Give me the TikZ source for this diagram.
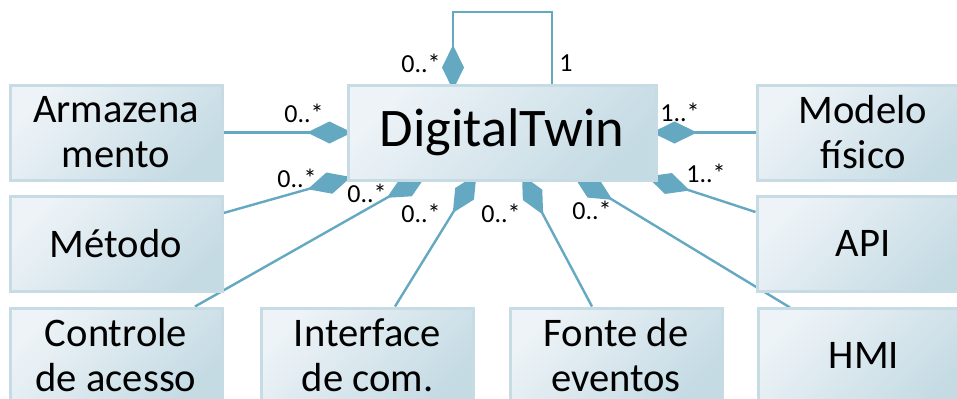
\documentclass[tikz,border=0pt]{standalone}
\usepackage{fontspec}
\setmainfont{Carlito}
\usetikzlibrary{arrows.meta,calc}
\pgfdeclarelayer{lines}
\pgfsetlayers{lines,main}
\definecolor{linkblue}{HTML}{64A8C1}
\definecolor{boxlight}{HTML}{EDF3F7}
\definecolor{boxdark}{HTML}{C5DBE4}
\definecolor{boxedge}{HTML}{C6DBE4}
\begin{document}
\begin{tikzpicture}[x=0.5pt,y=-0.5pt,
  box/.style={draw=boxedge, line width=1.5pt, top color=boxlight, bottom color=boxdark,
    shading angle=45, minimum width=106pt, minimum height=47.5pt, inner sep=0pt,
    align=center, font=\fontsize{20.3}{22.5}\selectfont},
  mainbox/.style={box, minimum width=154pt, font=\fontsize{27.2}{30}\selectfont},
  lbl/.style={inner sep=0pt, font=\fontsize{13}{15}\selectfont},
  link/.style={draw=linkblue, line width=1.2pt, -{Diamond[length=22.5pt,width=11pt]}}]
\useasboundingbox (0,0) rectangle (957,398);

% classes
\node[box] (arm) at (116,132.5) {Armazena\\mento};
\node[mainbox] (dt) at (502,132.5) {DigitalTwin};
\node[box] (mod) at (863,132.5) {Modelo\\físico};
\node[box] (met) at (116,243.5) {Método};
\node[box] (api) at (863,243.5) {API};
\node[box] (ctrl) at (116,355.5) {Controle\\de acesso};
\node[box] (intf) at (367.5,355.5) {Interface\\de com.};
\node[box] (fonte) at (616,355.5) {Fonte de\\eventos};
\node[box] (hmi) at (864,355.5) {HMI};

% diamond ends, tucked under the DigitalTwin box
\coordinate (tSelf) at (453,90);
\coordinate (loopA) at (552,12);
\coordinate (loopB) at (453,12);
\coordinate (tArm) at (352,132.5);
\coordinate (tMod) at (652,132.5);
\coordinate (tMet) at (351,177);
\coordinate (tCtrl) at (426,175.6);
\coordinate (tIntf) at (476.4,174.6);
\coordinate (tFonte) at (522,175);
\coordinate (tHmi) at (574,176.5);
\coordinate (tApi) at (647,176.5);

% compositions
\begin{pgfonlayer}{lines}
\draw[link] ($(dt.north)+(50,0)$) -- (loopA) -- (loopB) -- (tSelf);
\draw[link] (arm.east) -- (tArm);
\draw[link] (mod.west) -- (tMod);
\draw[link] ($(met.east)+(0,-30.5)$) -- (tMet);
\draw[link] ($(ctrl.north)+(79,0)$) -- (tCtrl);
\draw[link] ($(intf.north)+(27.5,0)$) -- (tIntf);
\draw[link] ($(fonte.north)+(-24,0)$) -- (tFonte);
\draw[link] ($(hmi.north)+(-74,1)$) -- (tHmi);
\draw[link] ($(api.west)+(0,-31.5)$) -- (tApi);
\end{pgfonlayer}

% multiplicities
\node[lbl] (lSelf) at (421,63) {0..*};
\node[lbl] (lSelfOne) at (566,63) {1};
\node[lbl] (lArm) at (304,113) {0..*};
\node[lbl] (lMod) at (680,112) {1..*};
\node[lbl] (lApi) at (706,173) {1..*};
\node[lbl] (lMet) at (297,178) {0..*};
\node[lbl] (lCtrl) at (367,193) {0..*};
\node[lbl] (lIntf) at (421,213) {0..*};
\node[lbl] (lFonte) at (501,213) {0..*};
\node[lbl] (lHmi) at (592,210) {0..*};
\end{tikzpicture}
\end{document}
